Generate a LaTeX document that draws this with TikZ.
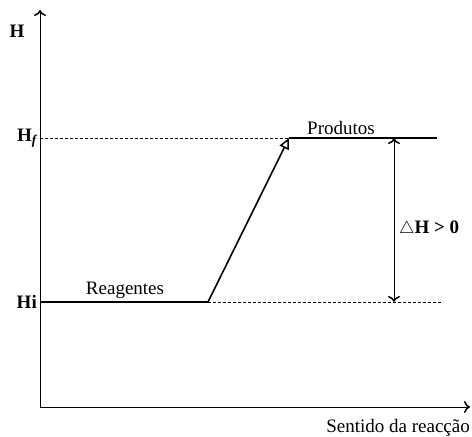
\documentclass[tikz,border=0pt]{standalone}
\usepackage{fontspec}
\setmainfont{Liberation Serif}
\usepackage{amssymb}
\usetikzlibrary{arrows.meta, positioning}

\tikzset{
    ponta/.style={-{To[length=6pt, width=12pt, line width=1.5pt]}},
    eixo/.style={line width=0.9pt, ponta},
    nivel/.style={line width=1.8pt},
    tracejado/.style={line width=0.7pt, dash pattern=on 3pt off 2pt},
    rotulo/.style={font=\fontsize{19}{22}\selectfont, inner sep=1pt},
    negrito/.style={font=\fontsize{19}{22}\selectfont\bfseries, inner sep=1pt}
}

\begin{document}
\begin{tikzpicture}[x=1pt, y=-1pt]
    \useasboundingbox (0,0) rectangle (472,437);
    % 1. Pontos principais
    \coordinate (O) at (40,407);
    \coordinate (topoY) at (40,10);
    \coordinate (fimX) at (470,407);
    \coordinate (Hf) at (40,138);
    \coordinate (Hi) at (40,302);
    \coordinate (reagFim) at (208,302);
    \coordinate (prodIni) at (289,138);
    \coordinate (prodFim) at (437,138);
    \coordinate (hiFim) at (443,302);
    \coordinate (dHsup) at (394,138);
    \coordinate (dHinf) at (394,302);

    % 2. Eixos
    \draw[eixo] (O) -- (topoY);
    \draw[eixo] (O) -- (fimX);
    \node[negrito] (lblH) at (17,31) {H};
    \node[rotulo, anchor=north east] (lblX) at (471,418) {Sentido da reacção};

    % 3. Níveis de entalpia
    \draw[tracejado] (Hf) -- (prodIni);
    \draw[tracejado] (reagFim) -- (hiFim);
    \draw[nivel] (Hi) -- (reagFim);
    \draw[nivel] (prodIni) -- (prodFim);
    \draw[line width=1.6pt, -{Triangle[open, length=11pt, width=10pt, line width=1.5pt]}] (reagFim) -- (prodIni);
    \node[negrito, left=2pt of Hf] (lblHf) {H\textsubscript{\itshape f}};
    \node[negrito, left=2pt of Hi] (lblHi) {Hi};
    \node[rotulo, above=2pt] (lblReag) at (125,302) {Reagentes};
    \node[rotulo, above=2pt] (lblProd) at (341,138) {Produtos};

    % 4. Variação de entalpia
    \draw[line width=0.9pt, {To[length=6pt, width=12pt, line width=1.5pt]}-{To[length=6pt, width=12pt, line width=1.5pt]}] (dHsup) -- (dHinf);
    \node[rotulo, anchor=west] (lblDH) at (398,229) {$\triangle$\textbf{H > 0}};
\end{tikzpicture}
\end{document}
